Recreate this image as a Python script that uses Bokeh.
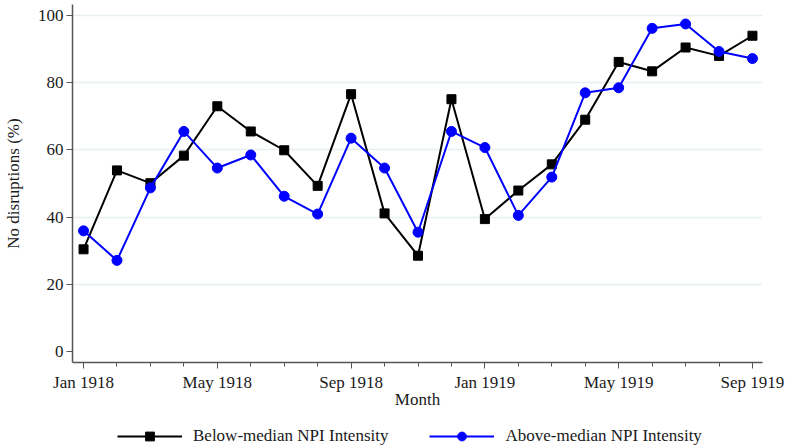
from bokeh.plotting import figure
from bokeh.layouts import column
from bokeh.models import FixedTicker, Legend, LegendItem
from bokeh.embed import file_html
from bokeh.resources import INLINE

# Monthly share of cities with no disruptions, Jan 1918 - Sep 1919
months = ["Jan 1918", "Feb 1918", "Mar 1918", "Apr 1918", "May 1918", "Jun 1918",
          "Jul 1918", "Aug 1918", "Sep 1918", "Oct 1918", "Nov 1918", "Dec 1918",
          "Jan 1919", "Feb 1919", "Mar 1919", "Apr 1919", "May 1919", "Jun 1919",
          "Jul 1919", "Aug 1919", "Sep 1919"]
below_median = [30.4, 53.9, 50.1, 58.3, 73.0, 65.5, 59.9, 49.3, 76.6, 41.1, 28.5,
                75.1, 39.4, 47.9, 55.7, 69.0, 86.2, 83.4, 90.5, 88.0, 94.0]
above_median = [35.9, 27.1, 48.7, 65.5, 54.6, 58.5, 46.2, 40.9, 63.5, 54.6, 35.5,
                65.5, 60.7, 40.5, 51.9, 77.0, 78.5, 96.2, 97.5, 89.3, 87.2]
x_ticks = [0, 4, 8, 12, 16, 20]
y_ticks = [0, 20, 40, 60, 80, 100]
series_names = ["Below-median NPI Intensity", "Above-median NPI Intensity"]

x = list(range(len(months)))
FONT = "Liberation Serif"
TEXT = "#1a1a1a"
BLUE = "#0000ff"


def draw_series(fig):
    """Both series as line + marker; returns the renderers for a legend."""
    bl = fig.line(x, below_median, line_color="black", line_width=2)
    bm = fig.scatter(x, below_median, marker="square", size=9, fill_color="black",
                     line_color="black")
    al = fig.line(x, above_median, line_color=BLUE, line_width=2)
    am = fig.scatter(x, above_median, marker="circle", size=10, fill_color=BLUE,
                     line_color=BLUE)
    return [bl, bm], [al, am]


p = figure(width=789, height=420, output_backend="svg", toolbar_location=None,
           x_range=(-0.33, 20.3), y_range=(-3.3, 103.3),
           min_border_left=72, min_border_right=27, min_border_top=4,
           min_border_bottom=58)
p.outline_line_color = None
p.background_fill_color = "white"

# axes
p.xaxis.ticker = FixedTicker(ticks=x_ticks, minor_ticks=x)
p.xaxis.major_label_overrides = {i: months[i] for i in x_ticks}
p.yaxis.ticker = FixedTicker(ticks=y_ticks)
p.xaxis.axis_label = "Month"
p.yaxis.axis_label = "No disruptions (%)"
for ax in (p.xaxis, p.yaxis):
    ax.axis_line_color = "#555555"
    ax.axis_line_width = 1.5
    ax.major_tick_line_color = "#555555"
    ax.minor_tick_line_color = "#555555"
    ax.major_tick_out = 6
    ax.major_tick_in = 0
    ax.minor_tick_out = 4
    ax.minor_tick_in = 0
    ax.major_label_text_font = FONT
    ax.major_label_text_font_size = "17px"
    ax.major_label_text_color = TEXT
    ax.axis_label_text_font = FONT
    ax.axis_label_text_font_size = "17px"
    ax.axis_label_text_font_style = "normal"
    ax.axis_label_text_color = TEXT
p.yaxis.major_label_orientation = "horizontal"
p.yaxis.major_label_standoff = 3
p.xaxis.major_label_standoff = 4
p.xaxis.axis_label_standoff = -5
p.yaxis.axis_label_standoff = 12

# grid
p.xgrid.grid_line_color = None
p.ygrid.ticker = FixedTicker(ticks=[20, 40, 60, 80, 100])
p.ygrid.grid_line_color = "#e6eff1"
p.ygrid.grid_line_width = 1.5

draw_series(p)

# key strip underneath the chart: same series, ranges set so only the key shows
k = figure(width=789, height=28, output_backend="svg", toolbar_location=None,
           x_range=(1000, 1001), y_range=(1000, 1001), min_border=0,
           x_axis_location=None, y_axis_location=None)
k.grid.visible = False
k.outline_line_color = None
below_r, above_r = draw_series(k)
legend = Legend(items=[LegendItem(label=series_names[0], renderers=below_r),
                       LegendItem(label=series_names[1], renderers=above_r)],
                orientation="horizontal", location=(45, 1),
                glyph_width=65, glyph_height=22, label_standoff=11, spacing=41,
                label_text_font=FONT, label_text_font_size="17px",
                label_text_color=TEXT, border_line_color=None,
                background_fill_alpha=0, padding=2, margin=0)
k.add_layout(legend, "center")

layout = column(p, k, spacing=0)
open("out.html", "w").write(file_html(layout, INLINE))
